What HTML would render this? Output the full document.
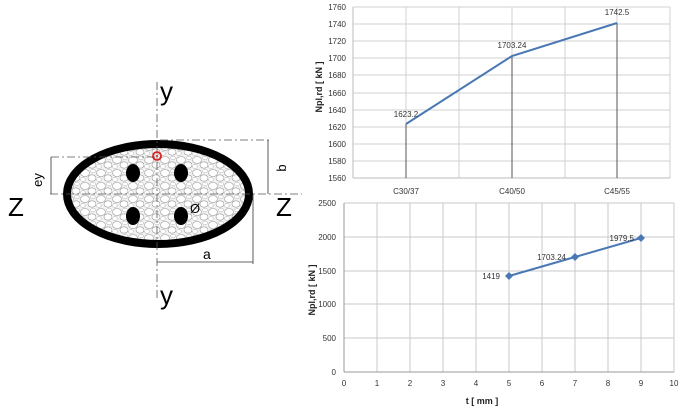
<!DOCTYPE html>
<html><head><style>body{margin:0;background:#fff}svg{display:block}</style></head><body>
<svg width="680" height="420" xmlns="http://www.w3.org/2000/svg" font-family="Liberation Sans, sans-serif">
<defs><pattern id="agg" width="16" height="13" patternUnits="userSpaceOnUse">
<ellipse cx="5" cy="4" rx="4.5" ry="3.5" fill="#fff" stroke="#999" stroke-width="0.6"/>
<ellipse cx="12" cy="9" rx="4" ry="3.2" fill="#fff" stroke="#999" stroke-width="0.6"/>
<ellipse cx="3" cy="10.5" rx="2.5" ry="2" fill="#fff" stroke="#aaa" stroke-width="0.5"/>
<ellipse cx="13" cy="2" rx="2.5" ry="1.8" fill="#fff" stroke="#aaa" stroke-width="0.5"/>
</pattern></defs>
<!-- left diagram -->
<ellipse cx="158" cy="194" rx="91" ry="50" fill="#f2f2f2"/>
<ellipse cx="158" cy="194" rx="91" ry="50" fill="url(#agg)"/>
<ellipse cx="158" cy="194" rx="91" ry="50" fill="none" stroke="#000" stroke-width="8"/>
<g stroke="#555" stroke-width="0.8" stroke-dasharray="8,3,2,3" fill="none">
<line x1="157" y1="82" x2="157" y2="300"/>
<line x1="50" y1="194" x2="302" y2="194"/>
<line x1="51" y1="157" x2="157" y2="157"/>
<line x1="160" y1="140" x2="270" y2="140"/>
</g>
<g stroke="#333" stroke-width="0.8">
<line x1="51" y1="157" x2="51" y2="194"/>
<line x1="268" y1="140" x2="268" y2="194"/>
<line x1="253" y1="194" x2="253" y2="264"/>
<line x1="157" y1="262" x2="253" y2="262"/>
<line x1="186" y1="210" x2="178" y2="215"/>
</g>
<ellipse cx="133" cy="173" rx="7" ry="9"/>
<ellipse cx="181" cy="173" rx="7" ry="9"/>
<ellipse cx="133" cy="216" rx="7" ry="9"/>
<ellipse cx="181" cy="216" rx="7" ry="9"/>
<circle cx="157" cy="156" r="4" fill="none" stroke="#d22" stroke-width="1.8"/>
<circle cx="157" cy="156" r="1" fill="#d22"/>
<g font-size="26" fill="#000">
<text x="160" y="100">y</text><text x="160" y="304">y</text>
<text x="8" y="216">Z</text><text x="276" y="216">Z</text>
</g>
<text x="203" y="259" font-size="14">a</text>
<text x="190" y="213" font-size="13">Ø</text>
<text transform="translate(42,180) rotate(-90)" font-size="13" text-anchor="middle">ey</text>
<text transform="translate(286,168) rotate(-90)" font-size="13" text-anchor="middle">b</text>
<!-- top chart -->
<g stroke="#d0d0d0" stroke-width="1">
<line x1="353" y1="7" x2="670" y2="7"/><line x1="353" y1="24" x2="670" y2="24"/><line x1="353" y1="41" x2="670" y2="41"/><line x1="353" y1="58" x2="670" y2="58"/><line x1="353" y1="75" x2="670" y2="75"/><line x1="353" y1="93" x2="670" y2="93"/><line x1="353" y1="110" x2="670" y2="110"/><line x1="353" y1="127" x2="670" y2="127"/><line x1="353" y1="144" x2="670" y2="144"/><line x1="353" y1="161" x2="670" y2="161"/>
<line x1="406" y1="7" x2="406" y2="178"/><line x1="459" y1="7" x2="459" y2="178"/><line x1="512" y1="7" x2="512" y2="178"/><line x1="565" y1="7" x2="565" y2="178"/><line x1="617" y1="7" x2="617" y2="178"/><line x1="670" y1="7" x2="670" y2="178"/>
</g>
<line x1="353" y1="178" x2="670" y2="178" stroke="#bbb"/>
<line x1="353" y1="7" x2="353" y2="178" stroke="#bbb"/>
<g stroke="#555"><line x1="406" y1="124" x2="406" y2="178"/><line x1="512" y1="56" x2="512" y2="178"/><line x1="617" y1="23" x2="617" y2="178"/></g>
<polyline points="406,124 512,56 617,23" fill="none" stroke="#4a78b5" stroke-width="2"/>
<g font-size="8" fill="#333" text-anchor="end">
<text x="346" y="10">1760</text><text x="346" y="27">1740</text><text x="346" y="44">1720</text><text x="346" y="61">1700</text><text x="346" y="78">1680</text><text x="346" y="96">1660</text><text x="346" y="113">1640</text><text x="346" y="130">1620</text><text x="346" y="147">1600</text><text x="346" y="164">1580</text><text x="346" y="181">1560</text>
</g>
<g font-size="8" fill="#333" text-anchor="middle">
<text x="406" y="194">C30/37</text><text x="512" y="194">C40/50</text><text x="617" y="194">C45/55</text>
<text x="406" y="117">1623.2</text><text x="512" y="48">1703.24</text><text x="617" y="15">1742.5</text>
</g>
<text transform="translate(322,87) rotate(-90)" font-size="9" font-weight="bold" text-anchor="middle" fill="#222">Npl,rd  [ kN ]</text>
<!-- bottom chart -->
<g stroke="#c8c8c8">
<line x1="344" y1="203" x2="674" y2="203"/><line x1="344" y1="237" x2="674" y2="237"/><line x1="344" y1="271" x2="674" y2="271"/><line x1="344" y1="304" x2="674" y2="304"/><line x1="344" y1="338" x2="674" y2="338"/>
<line x1="377" y1="203" x2="377" y2="372"/><line x1="410" y1="203" x2="410" y2="372"/><line x1="443" y1="203" x2="443" y2="372"/><line x1="476" y1="203" x2="476" y2="372"/><line x1="509" y1="203" x2="509" y2="372"/><line x1="542" y1="203" x2="542" y2="372"/><line x1="575" y1="203" x2="575" y2="372"/><line x1="608" y1="203" x2="608" y2="372"/><line x1="641" y1="203" x2="641" y2="372"/><line x1="674" y1="203" x2="674" y2="372"/>
</g>
<line x1="344" y1="372" x2="674" y2="372" stroke="#999"/><line x1="344" y1="203" x2="344" y2="372" stroke="#999"/>
<polyline points="509,276 575,257 641,238" fill="none" stroke="#4a78b5" stroke-width="2"/>
<g fill="#4a78b5"><path d="M509,272 l4,4 -4,4 -4,-4z"/><path d="M575,253 l4,4 -4,4 -4,-4z"/><path d="M641,234 l4,4 -4,4 -4,-4z"/></g>
<g font-size="8" fill="#333" text-anchor="end">
<text x="336" y="206">2500</text><text x="336" y="240">2000</text><text x="336" y="274">1500</text><text x="336" y="307">1000</text><text x="336" y="341">500</text><text x="336" y="375">0</text>
<text x="500" y="279">1419</text><text x="566" y="260">1703.24</text><text x="634" y="241">1979.5</text>
</g>
<g font-size="8" fill="#333" text-anchor="middle">
<text x="344" y="386">0</text><text x="377" y="386">1</text><text x="410" y="386">2</text><text x="443" y="386">3</text><text x="476" y="386">4</text><text x="509" y="386">5</text><text x="542" y="386">6</text><text x="575" y="386">7</text><text x="608" y="386">8</text><text x="641" y="386">9</text><text x="674" y="386">10</text>
</g>
<text x="482" y="404" font-size="9" font-weight="bold" text-anchor="middle" fill="#222">t [ mm ]</text>
<text transform="translate(315,290) rotate(-90)" font-size="9" font-weight="bold" text-anchor="middle" fill="#222">Npl,rd  [ kN ]</text>
</svg>
</body></html>
